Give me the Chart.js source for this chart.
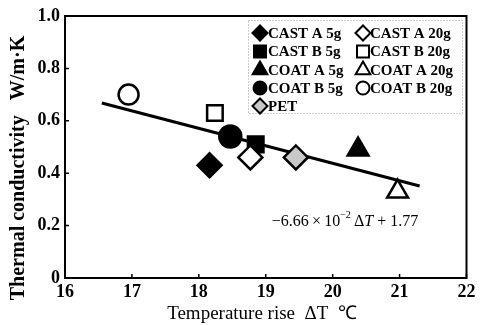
<!DOCTYPE html>
<html>
<head>
<meta charset="utf-8">
<script src="https://cdn.jsdelivr.net/npm/chart.js@4/dist/chart.umd.min.js"></script>
<style>
  html, body { margin: 0; padding: 0; background: #fff; }
  #wrap { width: 481px; height: 325px; position: relative; }
</style>
</head>
<body>
<div id="wrap"><canvas id="c" width="481" height="325"></canvas></div>
<script>
// Measured samples: temperature rise (°C) and thermal conductivity (W/m·K)
const seriesNames = ['CAST A 5g', 'CAST A 20g', 'CAST B 5g', 'CAST B 20g',
                     'COAT A 5g', 'COAT A 20g', 'COAT B 5g', 'COAT B 20g', 'PET'];
const tempRise =     [18.16, 18.77, 18.85, 18.24, 20.38, 20.97, 18.47, 16.95, 19.45];
const conductivity = [0.43,  0.46,  0.51,  0.63,  0.49,  0.33,  0.54,  0.70,  0.46];

// Linear fit reported on the chart: k = -6.66e-2 * ΔT + 1.77
const fitSlope = -6.66e-2;
const fitIntercept = 1.77;
const fitRange = [16.55, 21.3];

const xTicks = [16, 17, 18, 19, 20, 21, 22];
const yTicks = [0, 0.2, 0.4, 0.6, 0.8, 1.0];

const SERIF = '"Liberation Serif", "Times New Roman", serif';

// Marker look for each series
const markerStyles = [
  { pointStyle: 'rectRot',  fill: '#000', radius: 12 },
  { pointStyle: 'rectRot',  fill: '#fff', radius: 12 },
  { pointStyle: 'rect',     fill: '#000', radius: 11 },
  { pointStyle: 'rect',     fill: '#fff', radius: 11 },
  { pointStyle: 'triangle', fill: '#000', radius: 12 },
  { pointStyle: 'triangle', fill: '#fff', radius: 12 },
  { pointStyle: 'circle',   fill: '#000', radius: 11 },
  { pointStyle: 'circle',   fill: '#fff', radius: 10 },
  { pointStyle: 'rectRot',  fill: '#c8c8c8', radius: 12 }
];

const datasets = seriesNames.map((name, i) => ({
  type: 'scatter',
  label: name,
  data: [{ x: tempRise[i], y: conductivity[i] }],
  pointStyle: markerStyles[i].pointStyle,
  pointRadius: markerStyles[i].radius,
  pointHoverRadius: markerStyles[i].radius,
  backgroundColor: markerStyles[i].fill,
  borderColor: '#000',
  pointBorderWidth: 2.5,
  order: 0
}));

datasets.push({
  type: 'line',
  label: 'fit',
  data: fitRange.map(x => ({ x: x, y: fitSlope * x + fitIntercept })),
  borderColor: '#000',
  borderWidth: 3,
  pointRadius: 0,
  fill: false,
  order: 10
});

// Frame, inward tick marks, axis titles, fit equation and legend box
const decorations = {
  id: 'decorations',
  afterDatasetsDraw(chart) {
    const { ctx, chartArea: a, scales } = chart;
    const xs = scales.x, ys = scales.y;
    ctx.save();

    // inward ticks
    ctx.strokeStyle = '#000';
    ctx.lineWidth = 1.5;
    ctx.beginPath();
    xTicks.forEach(v => {
      const px = xs.getPixelForValue(v);
      ctx.moveTo(px, a.bottom); ctx.lineTo(px, a.bottom - 4);
    });
    yTicks.forEach(v => {
      const py = ys.getPixelForValue(v);
      ctx.moveTo(a.left, py); ctx.lineTo(a.left + 4, py);
    });
    ctx.stroke();

    // plot frame
    ctx.lineWidth = 2;
    ctx.strokeRect(a.left, a.top, a.right - a.left, a.bottom - a.top);

    // fit equation
    let ex = xs.getPixelForValue(19.09);
    const ey = ys.getPixelForValue(0.215);
    ctx.fillStyle = '#000';
    ctx.textBaseline = 'middle';
    ctx.textAlign = 'left';
    const parts = [
      { t: '\u22126.66\u2009\u00d7\u200910', f: '16px ' + SERIF, dy: 0 },
      { t: '\u22122', f: '10px ' + SERIF, dy: -6 },
      { t: '\u2009\u0394', f: '16px ' + SERIF, dy: 0 },
      { t: 'T', f: 'italic 16px ' + SERIF, dy: 0 },
      { t: ' + 1.77', f: '16px ' + SERIF, dy: 0 }
    ];
    parts.forEach(p => {
      ctx.font = p.f;
      ctx.fillText(p.t, ex, ey + p.dy);
      ex += ctx.measureText(p.t).width;
    });

    // axis titles
    ctx.font = '19px ' + SERIF;
    ctx.textAlign = 'center';
    ctx.fillText('Temperature rise  \u0394T  \u2103', 262, 314);

    ctx.save();
    ctx.translate(19, 168);
    ctx.rotate(-Math.PI / 2);
    ctx.font = 'bold 20px ' + SERIF;
    ctx.fillText('Thermal conductivity   W/m\u00b7K', 0, 0);
    ctx.restore();

    // legend box
    const lx = 248, ly = 20, lw = 214, lh = 93;
    ctx.strokeStyle = '#9a9a9a';
    ctx.lineWidth = 1;
    ctx.setLineDash([1, 2]);
    ctx.strokeRect(lx + 0.5, ly + 0.5, lw, lh);
    ctx.setLineDash([]);

    const colMarker = [260, 363], colText = [268, 370];
    const rowY = [33, 51.5, 70, 88, 106];
    ctx.font = 'bold 15px ' + SERIF;
    ctx.textAlign = 'left';
    seriesNames.forEach((name, i) => {
      const col = i === 8 ? 0 : i % 2;
      const row = Math.floor(i / 2);
      const ms = markerStyles[i];
      const legendR = { rectRot: 7.5, rect: 8.5, triangle: 8.5, circle: 6.5 }[ms.pointStyle];
      ctx.fillStyle = ms.fill;
      ctx.strokeStyle = '#000';
      ctx.lineWidth = 2;
      Chart.helpers.drawPoint(ctx, {
        pointStyle: ms.pointStyle, radius: legendR, rotation: 0, borderWidth: 2
      }, colMarker[col], rowY[row]);
      ctx.fillStyle = '#000';
      ctx.fillText(name, colText[col], rowY[row] + 1);
    });

    ctx.restore();
  }
};

new Chart(document.getElementById('c'), {
  data: { datasets },
  options: {
    responsive: false,
    animation: false,
    layout: { padding: { top: 16, right: 13, left: 0, bottom: 0 } },
    plugins: {
      legend: { display: false },
      tooltip: { enabled: false }
    },
    scales: {
      x: {
        type: 'linear',
        min: 16, max: 22,
        afterFit(s) { s.height = 47; },
        afterBuildTicks(s) { s.ticks = xTicks.map(v => ({ value: v })); },
        grid: { display: false, drawTicks: false },
        border: { display: false },
        ticks: {
          color: '#000',
          padding: 4,
          maxRotation: 0,
          font: { family: SERIF, size: 18, weight: 'bold' }
        }
      },
      y: {
        type: 'linear',
        min: 0, max: 1,
        afterFit(s) { s.width = 65; },
        afterBuildTicks(s) { s.ticks = yTicks.map(v => ({ value: v })); },
        grid: { display: false, drawTicks: false },
        border: { display: false },
        ticks: {
          color: '#000',
          padding: 5,
          font: { family: SERIF, size: 18, weight: 'bold' },
          callback: v => (v === 0 ? '0' : v.toFixed(1))
        }
      }
    }
  },
  plugins: [decorations]
});
</script>
</body>
</html>
